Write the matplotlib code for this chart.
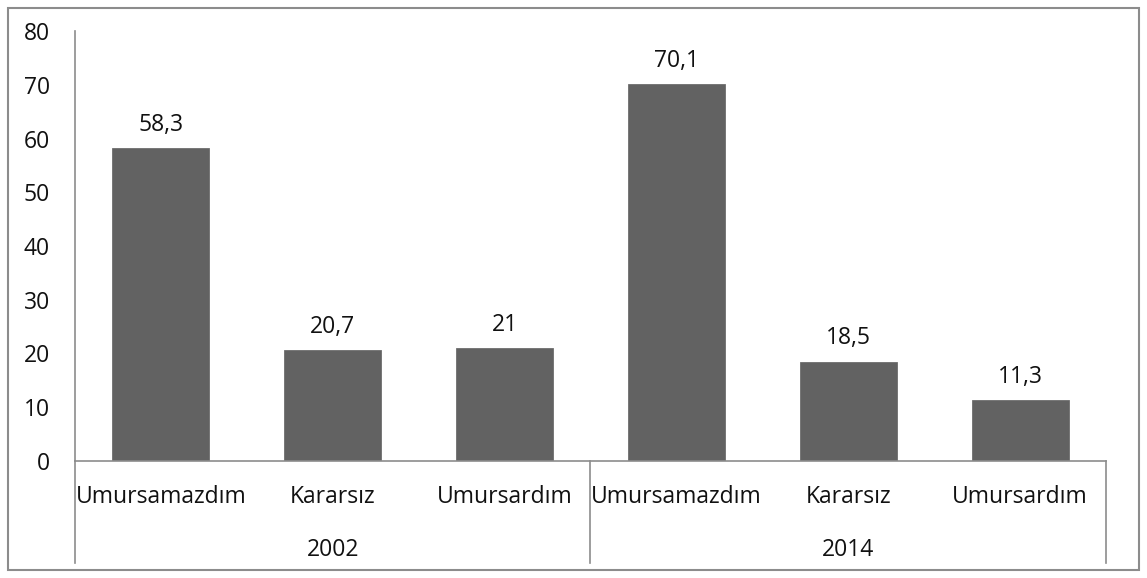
import matplotlib.pyplot as plt
from matplotlib.patches import Rectangle

years = ['2002', '2014']
categories = ['Umursamazdım', 'Kararsız', 'Umursardım']
values_2002 = [58.3, 20.7, 21]
values_2014 = [70.1, 18.5, 11.3]
value_labels = ['58,3', '20,7', '21', '70,1', '18,5', '11,3']

plt.rcParams['font.family'] = ['Open Sans', 'DejaVu Sans']
FS = 16.5

fig = plt.figure(figsize=(11.47, 5.78), dpi=100)
ax = fig.add_axes([75 / 1147, 1 - 461 / 578, (1106 - 75) / 1147, (461 - 31) / 578])

values = values_2002 + values_2014
x = list(range(len(values)))
bars = ax.bar(x, values, width=0.565, color='#626262', edgecolor='#6e6e6e', linewidth=0.6, zorder=2)

for rect, lab in zip(bars, value_labels):
    ax.annotate(lab, (rect.get_x() + rect.get_width() / 2, rect.get_height()),
                xytext=(0, 8), textcoords='offset points', ha='center', va='bottom',
                fontsize=FS, color='#111111')

ax.set_xlim(-0.5, len(values) - 0.5)
ax.set_ylim(0, 80)
ax.set_yticks(range(0, 81, 10))
ax.tick_params(axis='y', length=0, pad=18, labelsize=FS, labelcolor='#111111')
ax.tick_params(axis='x', length=0)
ax.set_xticks([])
for s in ['top', 'right']:
    ax.spines[s].set_visible(False)
for s in ['left', 'bottom']:
    ax.spines[s].set_color('#8c8c8c')
    ax.spines[s].set_linewidth(1.2)

# category labels and two-level axis
trans = ax.get_xaxis_transform()
labels = categories + categories
for xi, lab in zip(x, labels):
    ax.text(xi, -36 / 430, lab, transform=trans, ha='center', va='center', fontsize=FS, color='#111111')
for gi, yr in enumerate(years):
    ax.text(gi * 3 + 1, -89 / 430, yr, transform=trans, ha='center', va='center', fontsize=FS, color='#111111')
for sx in [-0.5, 2.5, 5.5]:
    ax.plot([sx, sx], [0, -102 / 430], transform=trans, color='#8c8c8c', lw=1.2, clip_on=False)

fig.patches.append(Rectangle((8 / 1147, 8 / 578), 1 - 16 / 1147, 1 - 16 / 578, transform=fig.transFigure,
                             fill=False, edgecolor='#8c8c8c', lw=1.5))

fig.savefig('out.png', dpi=100)
